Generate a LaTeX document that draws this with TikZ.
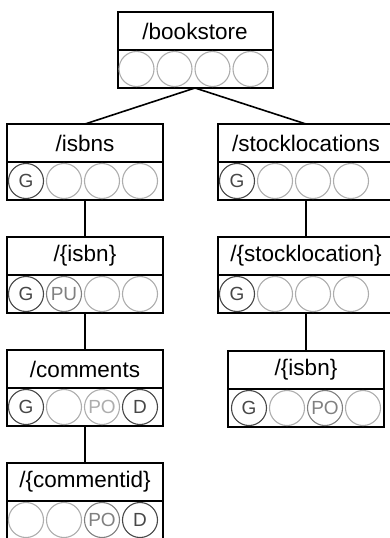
\documentclass[tikz,border=0pt]{standalone}
\usepackage{fontspec}
\setmainfont{Liberation Sans}
\usepackage{tikz}
\usetikzlibrary{positioning, calc}
\colorlet{opdark}{black!72}
\colorlet{opmid}{black!50}
\colorlet{oplight}{black!32}

\tikzset{
  resname/.style={draw, line width=2pt, outer sep=0pt, inner sep=0pt,
    minimum height=38pt, font=\fontsize{22.5}{26}\selectfont},
  oprow/.style={draw, line width=2pt, outer sep=0pt, inner sep=0pt, minimum height=38pt},
  op/.style={circle, draw=#1, text=#1, line width=1.1pt, minimum size=35pt, inner sep=0pt,
    font=\fontsize{19}{22}\selectfont},
  link/.style={line width=1.6pt}
}

\begin{document}
\begin{tikzpicture}[x=1pt, y=-1pt]
  \useasboundingbox (0,0) rectangle (390,538);

  % Root resource
  \node[resname, minimum width=155pt] (bookstore) at (195,31) {/bookstore};
  \node[oprow, minimum width=155pt, below=0pt of bookstore] (bookstore-ops) {};
  \foreach \i in {1,...,4}
    \node[op=oplight] (bookstore-\i) at ($(bookstore-ops.west)+(\i*38-19,0)$) {};

  % isbns branch
  \node[resname, minimum width=156pt] (isbns) at (85,143) {/isbns};
  \node[oprow, minimum width=156pt, below=0pt of isbns] (isbns-ops) {};
  \foreach \i/\op/\c in {1/G/opdark, 2//oplight, 3//oplight, 4//oplight}
    \node[op=\c] (isbns-\i) at ($(isbns-ops.west)+(\i*38-19,0)$) {\op};

  \node[resname, minimum width=156pt] (isbn) at (85,256) {/\{isbn\}};
  \node[oprow, minimum width=156pt, below=0pt of isbn] (isbn-ops) {};
  \foreach \i/\op/\c in {1/G/opdark, 2/PU/opmid, 3//oplight, 4//oplight}
    \node[op=\c] (isbn-\i) at ($(isbn-ops.west)+(\i*38-19,0)$) {\op};

  \node[resname, minimum width=156pt] (comments) at (85,369) {/comments};
  \node[oprow, minimum width=156pt, below=0pt of comments] (comments-ops) {};
  \foreach \i/\op/\c in {1/G/opdark, 2//oplight, 3/PO/oplight, 4/D/opdark}
    \node[op=\c] (comments-\i) at ($(comments-ops.west)+(\i*38-19,0)$) {\op};

  \node[resname, minimum width=156pt] (commentid) at (85,482) {/\{commentid\}};
  \node[oprow, minimum width=156pt, below=0pt of commentid] (commentid-ops) {};
  \foreach \i/\op/\c in {1//oplight, 2//oplight, 3/PO/opmid, 4/D/opdark}
    \node[op=\c] (commentid-\i) at ($(commentid-ops.west)+(\i*38-19,0)$) {\op};

  % stocklocations branch
  \node[resname, minimum width=176pt] (stocklocations) at (306,143) {/stocklocations};
  \node[oprow, minimum width=176pt, below=0pt of stocklocations] (stocklocations-ops) {};
  \foreach \i/\op/\c in {1/G/opdark, 2//oplight, 3//oplight, 4//oplight}
    \node[op=\c] (stocklocations-\i) at ($(stocklocations-ops.west)+(\i*38-19,0)$) {\op};

  \node[resname, minimum width=176pt] (stocklocation) at (306,256) {/\{stocklocation\}};
  \node[oprow, minimum width=176pt, below=0pt of stocklocation] (stocklocation-ops) {};
  \foreach \i/\op/\c in {1/G/opdark, 2//oplight, 3//oplight, 4//oplight}
    \node[op=\c] (stocklocation-\i) at ($(stocklocation-ops.west)+(\i*38-19,0)$) {\op};

  \node[resname, minimum width=156pt] (slisbn) at (306,370) {/\{isbn\}};
  \node[oprow, minimum width=156pt, below=0pt of slisbn] (slisbn-ops) {};
  \foreach \i/\op/\c in {1/G/opdark, 2//oplight, 3/PO/opmid, 4//oplight}
    \node[op=\c] (slisbn-\i) at ($(slisbn-ops.west)+(\i*38-19,0)+(2,0)$) {\op};

  % Links
  \draw[link] (bookstore-ops.south) -- (isbns.north);
  \draw[link] (bookstore-ops.south) -- (stocklocations.north);
  \draw[link] (isbns-ops.south) -- (isbn.north);
  \draw[link] (isbn-ops.south) -- (comments.north);
  \draw[link] (comments-ops.south) -- (commentid.north);
  \draw[link] (stocklocations-ops.south) -- (stocklocation.north);
  \draw[link] (stocklocation-ops.south) -- (slisbn.north);
\end{tikzpicture}
\end{document}
